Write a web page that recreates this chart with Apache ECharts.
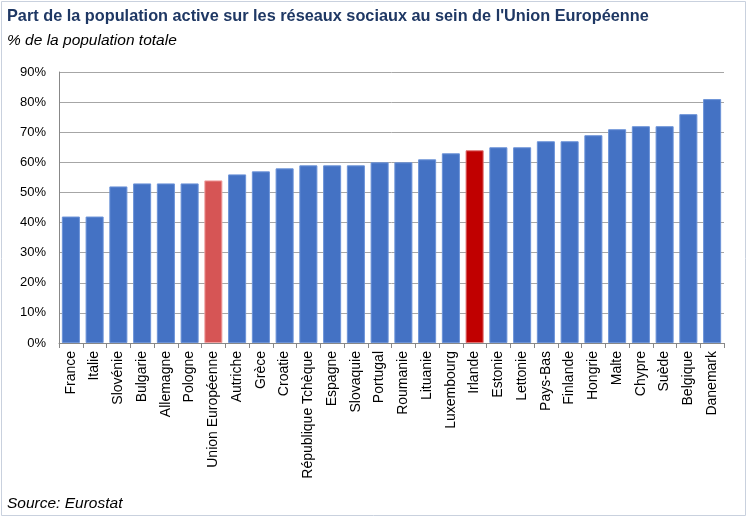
<!DOCTYPE html>
<html><head><meta charset="utf-8">
<script src="https://cdn.jsdelivr.net/npm/echarts@6/dist/echarts.min.js"></script>
<style>html,body{margin:0;padding:0;background:#fff}#c{width:747px;height:517px}</style>
</head><body><div id="c"></div>
<script>
const categories = ["France","Italie","Slovénie","Bulgarie","Allemagne","Pologne","Union Européenne","Autriche","Grèce","Croatie","République Tchèque","Espagne","Slovaquie","Portugal","Roumanie","Lituanie","Luxembourg","Irlande","Estonie","Lettonie","Pays-Bas","Finlande","Hongrie","Malte","Chypre","Suède","Belgique","Danemark"];
const values = [42,42,52,53,53,53,54,56,57,58,59,59,59,60,60,61,63,64,65,65,67,67,69,71,72,72,76,81];
const yTicks = [0,10,20,30,40,50,60,70,80,90];
const highlightEU = "Union Européenne";
const highlightIE = "Irlande";

const font = "'Liberation Sans', Arial, sans-serif";
const chart = echarts.init(document.getElementById('c'));
chart.setOption({
  animation:false,
  backgroundColor:'#fff',
  graphic:[
    {type:'rect', shape:{x:1.5,y:1.5,width:744,height:514}, style:{fill:'none', stroke:'#C9D1DE', lineWidth:1}},
    {type:'text', left:7, top:9, style:{text:"Part de la population active sur les réseaux sociaux au sein de l'Union Européenne", font:"bold 16.3px "+font, fill:'#1F3864'}},
    {type:'text', left:7, top:33, style:{text:"% de la population totale", font:"italic 15.5px "+font, fill:'#000'}},
    {type:'text', left:7, top:496, style:{text:"Source: Eurostat", font:"italic 15.5px "+font, fill:'#000'}}
  ],
  grid:{left:59, right:23, top:72, bottom:174, containLabel:false},
  xAxis:{type:'category', data:categories,
    axisLine:{lineStyle:{color:'#888', width:1}},
    axisTick:{show:true, length:5, lineStyle:{color:'#888'}},
    axisLabel:{rotate:90, interval:0, color:'#000', fontSize:14, fontFamily:font, margin:8}
  },
  yAxis:{type:'value', min:0, max:90, interval:10,
    axisLine:{show:true, lineStyle:{color:'#888'}},
    axisTick:{show:false},
    splitLine:{lineStyle:{color:'#A6A6A6', width:1}},
    axisLabel:{formatter: v => yTicks.includes(v) ? v + '%' : '', color:'#000', fontSize:13, fontFamily:font, margin:13}
  },
  series:[{type:'bar', barCategoryGap:'24%',
    data: values.map((v,i)=>{
      const c = categories[i];
      if (c===highlightEU) return {value:v, itemStyle:{color:'#D65555', borderColor:'#F0A0A0', borderWidth:1}};
      if (c===highlightIE) return {value:v, itemStyle:{color:'#C00000', borderColor:'#E07070', borderWidth:1}};
      return {value:v, itemStyle:{color:'#4472C4', borderColor:'#6C93D8', borderWidth:1}};
    })
  }]
});
</script></body></html>
